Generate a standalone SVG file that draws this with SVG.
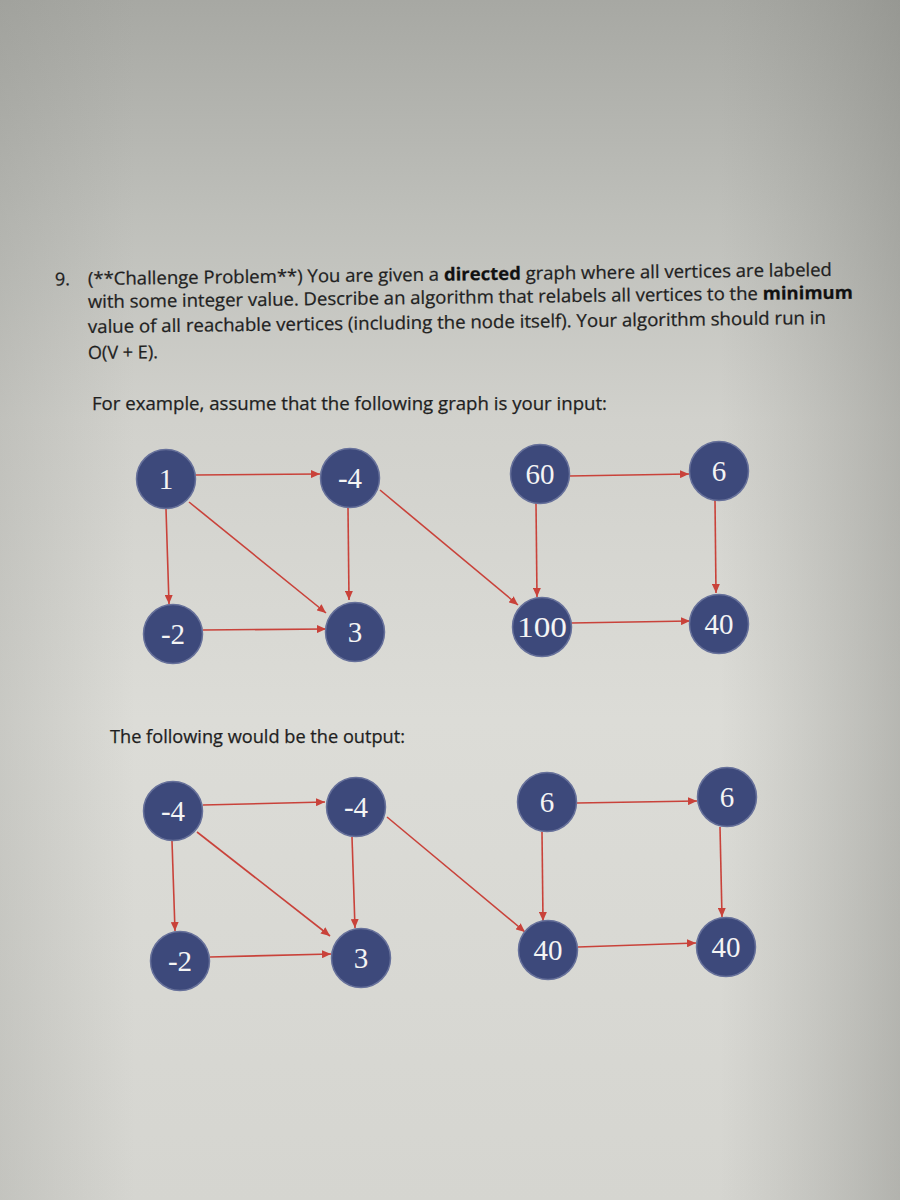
<svg xmlns="http://www.w3.org/2000/svg" width="900" height="1200" viewBox="0 0 900 1200">
  <defs>
    <linearGradient id="bgv" x1="0" y1="0" x2="0" y2="1">
      <stop offset="0" stop-color="#a7a8a3"/>
      <stop offset="0.18" stop-color="#bebfba"/>
      <stop offset="0.35" stop-color="#d1d1cc"/>
      <stop offset="0.6" stop-color="#dcdcd7"/>
      <stop offset="1" stop-color="#d5d5d0"/>
    </linearGradient>
    <linearGradient id="bgh" x1="0" y1="0" x2="1" y2="0">
      <stop offset="0" stop-color="#8e8f8a" stop-opacity="0.25"/>
      <stop offset="0.15" stop-color="#8e8f8a" stop-opacity="0"/>
      <stop offset="0.8" stop-color="#8e8f8a" stop-opacity="0"/>
      <stop offset="1" stop-color="#7e7f7a" stop-opacity="0.4"/>
    </linearGradient>
    <marker id="arr" markerUnits="userSpaceOnUse" markerWidth="9" markerHeight="8" refX="9" refY="4" orient="auto">
      <path d="M0,0 L9,4 L0,8 z" fill="#c9423a"/>
    </marker>
    <style>
      .body { font-family: "Open Sans", "Liberation Sans", sans-serif; font-size: 18px; fill: #1f1f1f; stroke: #1f1f1f; stroke-width: 0.25; }
      .b { font-weight: bold; fill: #111111; }
      .node circle { fill: #3d497b; stroke: #66709a; stroke-width: 1.5; }
      .node text { font-family: "Liberation Serif", "Times New Roman", serif; font-size: 29px; fill: #f4f4f4; text-anchor: middle; dominant-baseline: central; }
      .edges line { stroke: #c9423a; stroke-width: 1.6; marker-end: url(#arr); }
    </style>
  </defs>

  <rect x="0" y="0" width="900" height="1200" fill="url(#bgv)"/>
  <rect x="0" y="0" width="900" height="1200" fill="url(#bgh)"/>

  <!-- Problem text -->
  <g id="problem-text">
    <text class="body" x="55" y="285" transform="rotate(-0.7 88 285)">9.</text>
    <text class="body" x="88" y="285" textLength="744" lengthAdjust="spacingAndGlyphs" transform="rotate(-0.7 88 285)">(**Challenge Problem**) You are given a <tspan class="b">directed</tspan> graph where all vertices are labeled</text>
    <text class="body" x="88" y="308" textLength="765" lengthAdjust="spacingAndGlyphs" transform="rotate(-0.7 88 308)">with some integer value. Describe an algorithm that relabels all vertices to the <tspan class="b">minimum</tspan></text>
    <text class="body" x="88" y="333" textLength="738" lengthAdjust="spacingAndGlyphs" transform="rotate(-0.7 88 333)">value of all reachable vertices (including the node itself). Your algorithm should run in</text>
    <text class="body" x="88" y="359" textLength="70" lengthAdjust="spacingAndGlyphs" transform="rotate(-0.7 88 359)">O(V + E).</text>
    <text class="body" x="92" y="410" textLength="515" lengthAdjust="spacingAndGlyphs">For example, assume that the following graph is your input:</text>
    <text class="body" x="110" y="743" textLength="295" lengthAdjust="spacingAndGlyphs">The following would be the output:</text>
  </g>

  <!-- Connectors -->
  <g id="connectors" class="edges">
    <!-- input graph -->
    <line x1="195" y1="475" x2="320" y2="474"/>
    <line x1="166" y1="509" x2="169" y2="604"/>
    <line x1="189" y1="502" x2="326" y2="613"/>
    <line x1="203" y1="630" x2="326" y2="629"/>
    <line x1="348" y1="508" x2="349" y2="600"/>
    <line x1="380" y1="490" x2="518" y2="605"/>
    <line x1="569" y1="476" x2="689" y2="474"/>
    <line x1="536" y1="503" x2="537" y2="597"/>
    <line x1="715" y1="500" x2="716" y2="593"/>
    <line x1="571" y1="623" x2="690" y2="621"/>
    <!-- output graph -->
    <line x1="203" y1="805" x2="325" y2="802"/>
    <line x1="172" y1="841" x2="175" y2="931"/>
    <line x1="197" y1="832" x2="330" y2="936"/>
    <line x1="210" y1="957" x2="331" y2="954"/>
    <line x1="352" y1="837" x2="355" y2="928"/>
    <line x1="387" y1="817" x2="525" y2="932"/>
    <line x1="577" y1="803" x2="697" y2="801"/>
    <line x1="542" y1="832" x2="543" y2="921"/>
    <line x1="720" y1="827" x2="722" y2="917"/>
    <line x1="578" y1="947" x2="696" y2="943"/>
  </g>

  <!-- Input graph nodes -->
  <g id="in-n1" class="node"><circle cx="166" cy="479" r="29.5"/><text x="166" y="479">1</text></g>
  <g id="in-n-4" class="node"><circle cx="350" cy="478" r="29.5"/><text x="350" y="478">-4</text></g>
  <g id="in-n-2" class="node"><circle cx="173" cy="634" r="29.5"/><text x="173" y="634">-2</text></g>
  <g id="in-n3" class="node"><circle cx="355" cy="632" r="29.5"/><text x="355" y="632">3</text></g>
  <g id="in-n60" class="node"><circle cx="540" cy="474" r="29.5"/><text x="540" y="474">60</text></g>
  <g id="in-n6" class="node"><circle cx="719" cy="471" r="29.5"/><text x="719" y="471">6</text></g>
  <g id="in-n100" class="node"><circle cx="542" cy="627" r="29.5"/><text x="542" y="627" textLength="50" lengthAdjust="spacingAndGlyphs">100</text></g>
  <g id="in-n40" class="node"><circle cx="719" cy="624" r="29.5"/><text x="719" y="624">40</text></g>

  <!-- Output graph nodes -->
  <g id="out-n1" class="node"><circle cx="173" cy="811" r="29.5"/><text x="173" y="811">-4</text></g>
  <g id="out-n-4" class="node"><circle cx="356" cy="807" r="29.5"/><text x="356" y="807">-4</text></g>
  <g id="out-n-2" class="node"><circle cx="180" cy="961" r="29.5"/><text x="180" y="961">-2</text></g>
  <g id="out-n3" class="node"><circle cx="361" cy="958" r="29.5"/><text x="361" y="958">3</text></g>
  <g id="out-n60" class="node"><circle cx="547" cy="802" r="29.5"/><text x="547" y="802">6</text></g>
  <g id="out-n6" class="node"><circle cx="727" cy="797" r="29.5"/><text x="727" y="797">6</text></g>
  <g id="out-n100" class="node"><circle cx="548" cy="950" r="29.5"/><text x="548" y="950">40</text></g>
  <g id="out-n40" class="node"><circle cx="726" cy="947" r="29.5"/><text x="726" y="947">40</text></g>
</svg>
